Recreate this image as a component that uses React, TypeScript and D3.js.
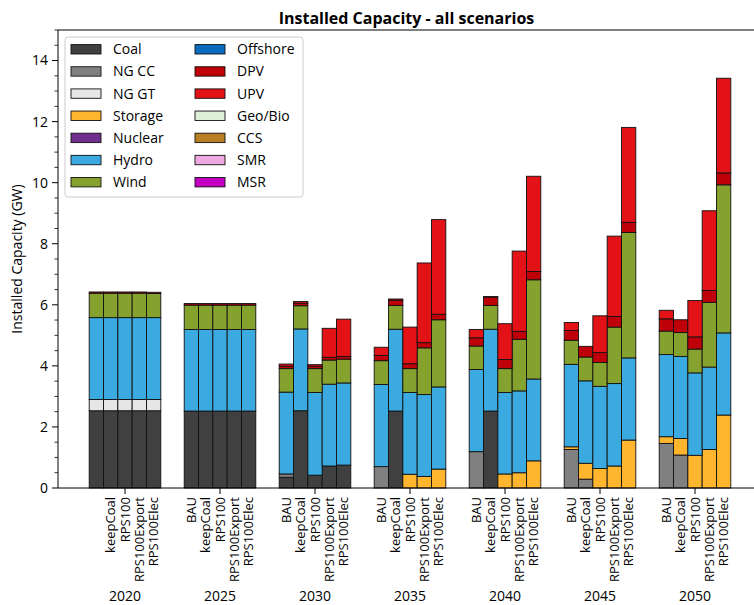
import React from "react";
import * as d3 from "d3";

const years = ["2020", "2025", "2030", "2035", "2040", "2045", "2050"];
const scenarios = ["BAU", "keepCoal", "RPS100", "RPS100Export", "RPS100Elec"];
// 2020 group has no label under its first bar
const tickLabels2020 = ["", "keepCoal", "RPS100", "RPS100Export", "RPS100Elec"];

const techs = ["Coal", "NG CC", "NG GT", "Storage", "Nuclear", "Hydro", "Wind", "Offshore", "DPV", "UPV", "Geo/Bio", "CCS", "SMR", "MSR"];
const techColors = ["#404040", "#808080", "#e6e6e6", "#ffb52e", "#702f8f", "#3aaae0", "#86a22e", "#0b6cbd", "#c00008", "#e31217", "#dff0d8", "#b87f24", "#f0a8e4", "#c200c2"];

// values in GW, ordered year by year, each year: BAU, keepCoal, RPS100, RPS100Export, RPS100Elec
const coal = [
  2.53, 2.53, 2.53, 2.53, 2.53,
  2.52, 2.52, 2.52, 2.52, 2.52,
  0.35, 2.53, 0.42, 0.72, 0.75,
  0, 2.52, 0, 0, 0,
  0, 2.52, 0, 0, 0,
  0, 0, 0, 0, 0,
  0, 0, 0, 0, 0,
];
const ngcc = [
  0, 0, 0, 0, 0,
  0, 0, 0, 0, 0,
  0.11, 0, 0, 0, 0,
  0.70, 0, 0, 0, 0,
  1.19, 0, 0, 0, 0,
  1.26, 0.29, 0, 0, 0,
  1.46, 1.08, 0, 0, 0,
];
const nggt = [
  0.37, 0.37, 0.37, 0.37, 0.37,
  0, 0, 0, 0, 0,
  0, 0, 0, 0, 0,
  0, 0, 0, 0, 0,
  0, 0, 0, 0, 0,
  0, 0, 0, 0, 0,
  0, 0, 0, 0, 0,
];
const storage = [
  0, 0, 0, 0, 0,
  0, 0, 0, 0, 0,
  0, 0, 0, 0, 0,
  0, 0, 0.45, 0.38, 0.62,
  0, 0, 0.46, 0.50, 0.89,
  0.09, 0.52, 0.64, 0.72, 1.57,
  0.22, 0.54, 1.07, 1.26, 2.39,
];
const nuclear = new Array(35).fill(0);
const hydro = [
  2.68, 2.68, 2.68, 2.68, 2.68,
  2.67, 2.67, 2.67, 2.67, 2.67,
  2.68, 2.68, 2.71, 2.68, 2.69,
  2.69, 2.68, 2.68, 2.68, 2.69,
  2.69, 2.68, 2.67, 2.68, 2.68,
  2.70, 2.70, 2.69, 2.70, 2.69,
  2.69, 2.69, 2.70, 2.70, 2.69,
];
const wind = [
  0.80, 0.80, 0.80, 0.80, 0.79,
  0.80, 0.80, 0.80, 0.80, 0.80,
  0.77, 0.76, 0.78, 0.79, 0.78,
  0.78, 0.78, 0.78, 1.53, 2.20,
  0.77, 0.78, 0.78, 1.69, 3.25,
  0.79, 0.78, 0.78, 1.85, 4.11,
  0.77, 0.78, 0.78, 2.12, 4.85,
];
const offshore = new Array(35).fill(0);
const dpv = [
  0.04, 0.04, 0.04, 0.04, 0.04,
  0.05, 0.05, 0.05, 0.05, 0.05,
  0.08, 0.08, 0.08, 0.09, 0.09,
  0.17, 0.17, 0.16, 0.17, 0.18,
  0.27, 0.27, 0.30, 0.26, 0.27,
  0.32, 0.35, 0.33, 0.35, 0.33,
  0.40, 0.42, 0.40, 0.39, 0.39,
];
const upv = [
  0, 0, 0, 0, 0,
  0, 0, 0, 0, 0,
  0.07, 0.06, 0.05, 0.95, 1.22,
  0.27, 0.04, 1.20, 2.61, 3.10,
  0.27, 0.02, 1.17, 2.63, 3.12,
  0.26, 0, 1.20, 2.63, 3.11,
  0.28, 0, 1.19, 2.61, 3.10,
];
const geobio = new Array(35).fill(0);
const ccs = new Array(35).fill(0);
const smr = new Array(35).fill(0);
const msr = new Array(35).fill(0);

const seriesValues = [coal, ngcc, nggt, storage, nuclear, hydro, wind, offshore, dpv, upv, geobio, ccs, smr, msr];
const yTicks = [0, 2, 4, 6, 8, 10, 12, 14];

const W = 754, H = 605;
const M = { left: 58, right: 755, top: 30, bottom: 488 };
const FONT = "'Open Sans', 'Noto Sans', sans-serif";

export default function App() {
  const y = d3.scaleLinear().domain([0, 15]).range([M.bottom, M.top]);
  const xg = d3.scaleLinear().domain([0, 6]).range([125, 695]);
  const xb = d3.scaleBand<string>().domain(scenarios).range([-35.8, 35.8]).padding(0);
  const bw = xb.bandwidth();

  const rows = years.flatMap((yr, gi) => scenarios.map((sc, si) => {
    const r: any = { year: yr, gi, sc, si };
    techs.forEach((t, ti) => { r[t] = seriesValues[ti][gi * 5 + si]; });
    return r;
  }));
  const stack = d3.stack<any>().keys(techs)(rows);
  const minorTicks = d3.range(0, 15.01, 0.5).filter(v => Math.abs(v % 2) > 1e-6);

  return (
    <svg width={W} height={H} style={{ position: "absolute", left: 0, top: 0, background: "#fff" }} fontFamily={FONT}>
      <text x={(M.left + M.right) / 2} y={24} textAnchor="middle" fontWeight="bold" fontSize={16}>Installed Capacity - all scenarios</text>
      {/* bars */}
      {stack.map((layer, ti) => (
        <g key={techs[ti]}>
          {layer.map((d, k) => {
            if (d[1] - d[0] <= 0) return null;
            const r = rows[k];
            const x0 = xg(r.gi) + (xb(r.sc) as number);
            return (
              <rect key={k} x={x0} y={y(d[1])} width={bw} height={y(d[0]) - y(d[1])}
                fill={techColors[ti]} stroke="#111" strokeWidth={0.9} />
            );
          })}
        </g>
      ))}
      {/* axes frame */}
      <line x1={M.left} x2={M.right} y1={M.top} y2={M.top} stroke="#000" strokeWidth={1} />
      <line x1={M.left} x2={M.right} y1={M.bottom} y2={M.bottom} stroke="#000" strokeWidth={1} />
      <line x1={M.left} x2={M.left} y1={M.top} y2={M.bottom} stroke="#000" strokeWidth={1} />
      {/* y ticks */}
      {yTicks.map(t => (
        <g key={t}>
          <line x1={M.left - 6} x2={M.left} y1={y(t)} y2={y(t)} stroke="#000" />
          <text x={M.left - 10} y={y(t)} dy="0.35em" textAnchor="end" fontSize={14}>{t}</text>
        </g>
      ))}
      {minorTicks.map(t => (
        <line key={"m" + t} x1={M.left - 3.5} x2={M.left} y1={y(t)} y2={y(t)} stroke="#000" strokeWidth={0.8} />
      ))}
      <text transform={`translate(17,${(M.top + M.bottom) / 2}) rotate(-90)`} textAnchor="middle" dy="0.35em" fontSize={14}>Installed Capacity (GW)</text>
      {/* x ticks and labels */}
      {years.map((yr, gi) => (
        <g key={yr}>
          <line x1={xg(gi)} x2={xg(gi)} y1={M.bottom} y2={M.bottom + 6} stroke="#000" />
          <text x={xg(gi)} y={601} textAnchor="middle" fontSize={14}>{yr}</text>
          {scenarios.map((sc, si) => {
            const label = gi === 0 ? tickLabels2020[si] : sc;
            const cx = xg(gi) + (xb(sc) as number) + bw / 2;
            return (
              <text key={sc} transform={`translate(${cx},${M.bottom + 9}) rotate(-90)`} textAnchor="end" dy="0.35em" fontSize={13}>{label}</text>
            );
          })}
        </g>
      ))}
      {/* legend */}
      <rect x={65} y={37} width={238} height={160} rx={3} fill="#fff" fillOpacity={0.8} stroke="#ccc" />
      {techs.map((t, i) => {
        const col = Math.floor(i / 7), row = i % 7;
        const lx = col === 0 ? 71 : 195;
        const cy = 49.3 + row * 22.15;
        return (
          <g key={t}>
            <rect x={lx} y={cy - 4.7} width={30} height={9.4} fill={techColors[i]} stroke="#111" strokeWidth={0.9} />
            <text x={lx + 42} y={cy} dy="0.35em" fontSize={14}>{t}</text>
          </g>
        );
      })}
    </svg>
  );
}
